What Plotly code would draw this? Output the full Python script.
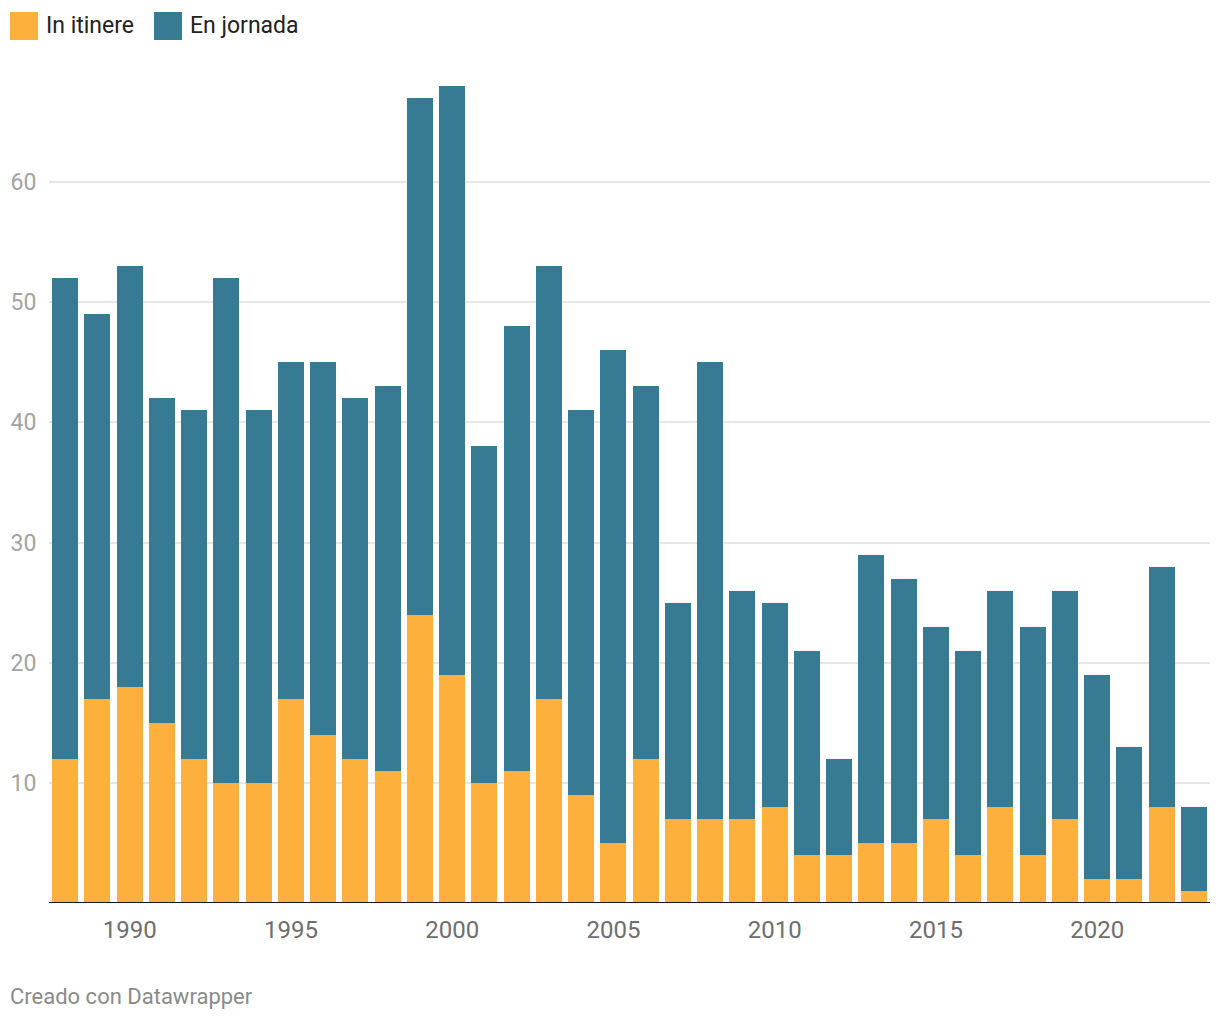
import plotly.graph_objects as go

years = list(range(1988, 2024))
total = [52, 49, 53, 42, 41, 52, 41, 45, 45, 42, 43, 67, 68, 38, 48, 53, 41, 46, 43, 25,
         45, 26, 25, 21, 12, 29, 27, 23, 21, 26, 23, 26, 19, 13, 28, 8]
in_itinere = [12, 17, 18, 15, 12, 10, 10, 17, 14, 12, 11, 24, 19, 10, 11, 17, 9, 5, 12, 7,
              7, 7, 8, 4, 4, 5, 5, 7, 4, 8, 4, 7, 2, 2, 8, 1]
en_jornada = [t - i for t, i in zip(total, in_itinere)]
series_names = ["In itinere", "En jornada"]
colors = ["#fdb03b", "#377a93"]
y_ticks = [10, 20, 30, 40, 50, 60]
x_ticks = [1990, 1995, 2000, 2005, 2010, 2015, 2020]

fig = go.Figure()
fig.add_trace(go.Bar(x=years, y=in_itinere, name=series_names[0], marker_color=colors[0],
                     marker_line_width=0, showlegend=False))
fig.add_trace(go.Bar(x=years, y=en_jornada, name=series_names[1], marker_color=colors[1],
                     marker_line_width=0, showlegend=False))

font_family = "Roboto, sans-serif"
fig.update_layout(
    width=1220, height=1020,
    margin=dict(l=49, r=10, t=70, b=117),
    barmode="stack", bargap=0.19,
    plot_bgcolor="white", paper_bgcolor="white",
    font=dict(family=font_family),
    xaxis=dict(range=[1987.5, 2023.5], tickvals=x_ticks, ticktext=[str(v) for v in x_ticks],
               showgrid=False, zeroline=False, showline=False,
               ticks="outside", ticklen=5, tickcolor="rgba(0,0,0,0)",
               tickfont=dict(size=24, color="#6e6e6e", family=font_family)),
    yaxis=dict(range=[0, 69.32], tickvals=y_ticks, ticktext=[str(v) for v in y_ticks],
               showgrid=True, gridcolor="#e6e6e6", gridwidth=1.5,
               zeroline=False, showline=False,
               ticks="outside", ticklen=7, tickcolor="rgba(0,0,0,0)",
               tickfont=dict(size=23, color="#a3a3a3", family=font_family)),
    shapes=[
        dict(type="line", xref="paper", yref="y", x0=0, x1=1, y0=0, y1=0,
             line=dict(color="#1a1a1a", width=2)),
    ],
)


def px_x(x):
    return (x - 49) / 1161


def px_y(y):
    return (903 - y) / 833


# manual legend with big squares
legend_items = [(10, 44, series_names[0], colors[0]), (154, 188, series_names[1], colors[1])]
for sx, tx, name, col in legend_items:
    fig.add_annotation(xref="paper", yref="paper", x=px_x(sx), y=px_y(12),
                       text="", showarrow=False, xanchor="left", yanchor="top",
                       width=28, height=28, bgcolor=col, borderpad=0, borderwidth=0)
    fig.add_annotation(xref="paper", yref="paper", x=px_x(tx), y=px_y(26),
                       text=name, showarrow=False, xanchor="left", yanchor="middle",
                       font=dict(size=23, color="#222222", family=font_family))

fig.add_annotation(xref="paper", yref="paper", x=px_x(8), y=px_y(997),
                   text="Creado con Datawrapper", showarrow=False,
                   xanchor="left", yanchor="middle",
                   font=dict(size=22, color="#8a8a8a", family=font_family))

fig.write_html("out.html")
